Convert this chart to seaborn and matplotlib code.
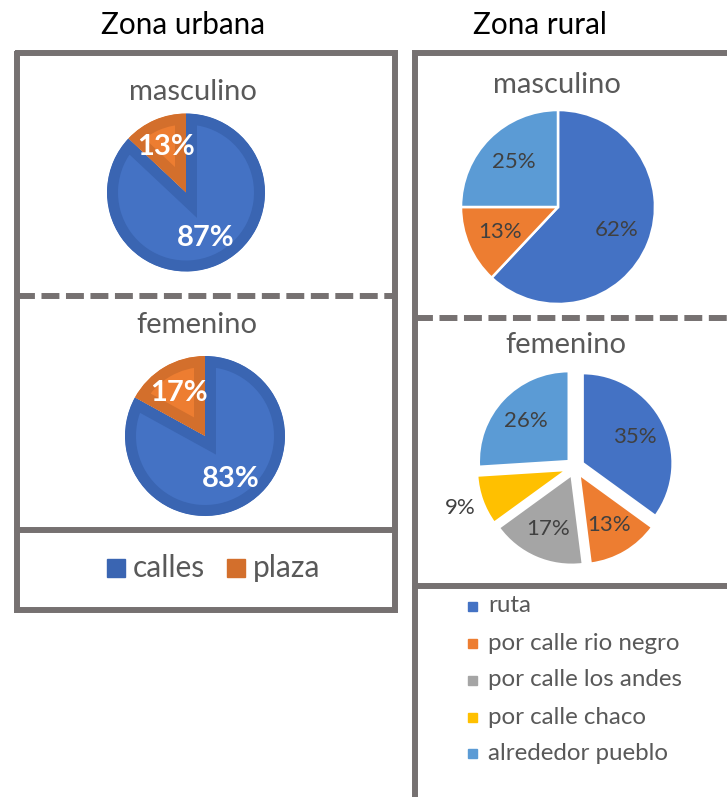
import matplotlib
matplotlib.use("Agg")
import matplotlib.pyplot as plt
import seaborn as sns
import numpy as np

# --- data -------------------------------------------------------------
urban_categories = ["calles", "plaza"]
urban_masculino = [87, 13]
urban_femenino = [83, 17]

rural_categories = ["ruta", "por calle rio negro", "por calle los andes",
                    "por calle chaco", "alrededor pueblo"]
rural_masculino = [62, 13, 0, 0, 25]
rural_femenino = [35, 13, 17, 9, 26]

zone_titles = ["Zona urbana", "Zona rural"]
group_titles = ["masculino", "femenino"]

# --- styling ----------------------------------------------------------
sns.set_theme(style="white")
plt.rcParams["font.family"] = ["Lato", "DejaVu Sans"]

urban_fill = ["#4472C4", "#ED7D31"]
urban_edge = ["#3A65B2", "#D36F2C"]
rural_colors = ["#4472C4", "#ED7D31", "#A5A5A5", "#FFC000", "#5B9BD5"]
frame_color = "#767171"
title_color = "#595959"
label_color = "#404040"

W, H = 727, 797
fig = plt.figure(figsize=(W / 100, H / 100), dpi=100)

# background axes in pixel units for frames, titles and legends
bg = fig.add_axes([0, 0, 1, 1])
bg.set_xlim(0, W)
bg.set_ylim(H, 0)
bg.axis("off")

lw = 4.3
dash = (0, (3.0, 1.1))
# left frame
bg.plot([17, 395, 395, 17, 17], [53, 53, 610, 610, 53], color=frame_color,
        lw=lw, solid_joinstyle="miter")
bg.plot([17, 395], [296, 296], color=frame_color, lw=lw, linestyle=dash)
bg.plot([17, 395], [530, 530], color=frame_color, lw=lw)
# right frame (open to the right and bottom)
bg.plot([414.5, 414.5, 730], [800, 53, 53], color=frame_color, lw=lw,
        solid_joinstyle="miter")
bg.plot([414.5, 730], [318, 318], color=frame_color, lw=lw, linestyle=dash)
bg.plot([414.5, 730], [586, 586], color=frame_color, lw=lw)

# zone titles
bg.text(183, 25, zone_titles[0], ha="center", va="center", fontsize=21.3, color="black")
bg.text(540, 25, zone_titles[1], ha="center", va="center", fontsize=21.3, color="black")

# group titles
gt = 21
bg.text(193, 92, group_titles[0], ha="center", va="center", fontsize=gt, color=title_color)
bg.text(197, 325, group_titles[1], ha="center", va="center", fontsize=gt, color=title_color)
bg.text(557, 85, group_titles[0], ha="center", va="center", fontsize=gt, color=title_color)
bg.text(566, 345, group_titles[1], ha="center", va="center", fontsize=gt, color=title_color)


def pie_axes(cx, cy, r, pad=1.35):
    ax = fig.add_axes([(cx - r * pad) / W, 1 - (cy + r * pad) / H,
                       2 * r * pad / W, 2 * r * pad / H])
    return ax, pad


def finish(ax, pad):
    ax.set_xlim(-pad, pad)
    ax.set_ylim(-pad, pad)
    ax.axis("off")


def urban_pie(cx, cy, r, values):
    ax, pad = pie_axes(cx, cy, r)
    wedges, _, autotexts = ax.pie(
        values, colors=urban_fill, startangle=90, counterclock=False,
        autopct="%1.0f%%", pctdistance=0.63,
        textprops=dict(color="white", fontsize=21, fontweight="bold"))
    border_pt = 22 * 72 / 100  # stroke clipped to the wedge -> inset band
    for w, ec in zip(wedges, urban_edge):
        w.set_edgecolor(ec)
        w.set_linewidth(border_pt)
        w.set_joinstyle("miter")
        w.set_clip_on(True)
        w.set_clip_path(w)
    finish(ax, pad)
    return ax


def rural_pie(cx, cy, r, values, explode=0.0, label_dist=None):
    keep = [i for i, v in enumerate(values) if v > 0]
    vals = [values[i] for i in keep]
    cols = [rural_colors[i] for i in keep]
    ax, pad = pie_axes(cx, cy, r)
    wedges, _, autotexts = ax.pie(
        vals, colors=cols, startangle=90, counterclock=False,
        explode=[explode] * len(vals), autopct="%1.0f%%", pctdistance=0.65,
        wedgeprops=dict(edgecolor="white", linewidth=1.8),
        textprops=dict(color=label_color, fontsize=16))
    if label_dist:
        for j, (w, t) in enumerate(zip(wedges, autotexts)):
            d = label_dist.get(keep[j])
            if d is None:
                continue
            ang = np.deg2rad((w.theta1 + w.theta2) / 2)
            t.set_position((explode * np.cos(ang) + d * np.cos(ang),
                            explode * np.sin(ang) + d * np.sin(ang)))
    finish(ax, pad)
    return ax


urban_pie(186, 192.5, 79, urban_masculino)
urban_pie(205, 436, 80, urban_femenino)
rural_pie(558, 207, 97, rural_masculino)
rural_pie(575, 467, 90, rural_femenino, explode=0.095, label_dist={3: 1.26})

# legend for the urban zone
sq = 18
lt = 21.5
bg.add_patch(plt.Rectangle((107, 568 - sq / 2), sq, sq, color=urban_edge[0]))
bg.text(133, 568, urban_categories[0], va="center", ha="left", fontsize=lt, color=title_color)
bg.add_patch(plt.Rectangle((227, 568 - sq / 2), sq, sq, color=urban_edge[1]))
bg.text(253, 568, urban_categories[1], va="center", ha="left", fontsize=lt, color=title_color)

# legend for the rural zone
sq = 9
rows_y = [606, 643, 680, 717, 753]
for cat, col, y in zip(rural_categories, rural_colors, rows_y):
    bg.add_patch(plt.Rectangle((468, y - sq / 2), sq, sq, color=col))
    bg.text(488, y, cat, va="center", ha="left", fontsize=17.4, color=title_color)

fig.savefig("out.png", dpi=100)
